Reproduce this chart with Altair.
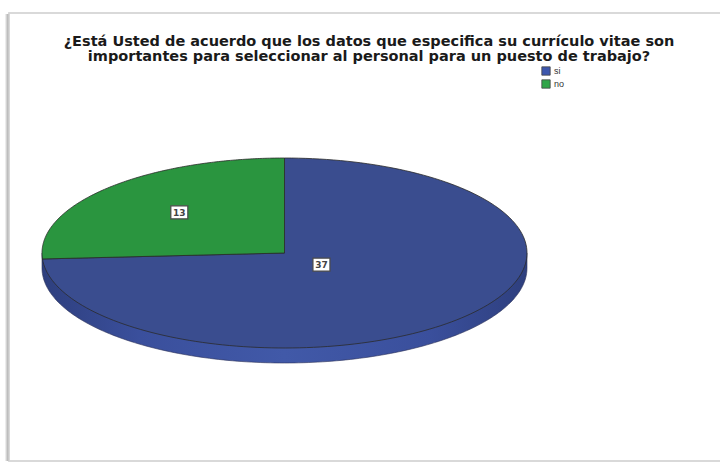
import altair as alt
import pandas as pd

# Responses to the survey question
categorias = ["si", "no"]
valores = [37, 13]
colores = ["#3a4d8f", "#2a953f"]
colores_leyenda = ["#3d57ad", "#2fa548"]
titulo = [
    "¿Está Usted de acuerdo que los datos que especifica su currículo vitae son",
    "importantes para seleccionar al personal para un puesto de trabajo?",
]

# Geometry of the tilted pie (pixel units of the canvas)
W, H = 720, 466
CX, CY, RX, RY, DEPTH = 284.5, 253, 242.5, 95, 15
N = 160

df = pd.DataFrame({"categoria": categorias, "valor": valores, "orden": range(len(categorias))})

xs = alt.Scale(domain=[0, W], range=[0, W], nice=False, zero=False)
ys = alt.Scale(domain=[0, H], range=[0, H], nice=False, zero=False)
X = lambda f: alt.X(f, type="quantitative", scale=xs, axis=None)
Y = lambda f: alt.Y(f, type="quantitative", scale=ys, axis=None)

# Start / end angles of each sector, clockwise from 12 o'clock
sectores = (
    alt.Chart(df)
    .transform_joinaggregate(total="sum(valor)")
    .transform_window(fin="sum(valor)", sort=[alt.SortField("orden")], frame=[None, 0])
    .transform_calculate(
        inicio="datum.fin - datum.valor",
        a0="2*PI*datum.inicio/datum.total",
        a1="2*PI*datum.fin/datum.total",
    )
)

# Visible rim of the disc (front half, shifted down by the depth)
borde = (
    alt.Chart(alt.sequence(0, N + 3, as_="k"))
    .transform_calculate(
        t=f"PI/2 + PI*datum.k/{N}",
        px=f"datum.k <= {N} ? {CX} + {RX}*sin(datum.t) : (datum.k == {N + 1} ? {CX - RX} : {CX + RX})",
        py=f"datum.k <= {N} ? {CY + DEPTH} - {RY}*cos(datum.t) : {CY}",
    )
    .mark_line(
        interpolate="linear-closed",
        stroke="#2a2f55",
        strokeWidth=0.6,
        fill=alt.Gradient(
            gradient="linear",
            x1=0, x2=1, y1=0, y2=0,
            stops=[
                alt.GradientStop(offset=0, color="#2e3f7e"),
                alt.GradientStop(offset=0.2, color="#3a4f9c"),
                alt.GradientStop(offset=0.5, color="#4159a8"),
                alt.GradientStop(offset=0.8, color="#3a4f9c"),
                alt.GradientStop(offset=1, color="#2e3f7e"),
            ],
        ),
    )
    .encode(x=X("px"), y=Y("py"), order="k:Q")
)

# Top face: one closed wedge per category
caras = (
    sectores.transform_calculate(k=f"sequence(-1, {N + 1})")
    .transform_flatten(["k"])
    .transform_calculate(
        t=f"datum.a0 + (datum.a1 - datum.a0)*datum.k/{N}",
        px=f"datum.k < 0 ? {CX} : {CX} + {RX}*sin(datum.t)",
        py=f"datum.k < 0 ? {CY} : {CY} - {RY}*cos(datum.t)",
    )
    .mark_line(interpolate="linear-closed", stroke="#2b2b2b", strokeWidth=0.8, strokeJoin="round")
    .encode(
        x=X("px"),
        y=Y("py"),
        order="k:Q",
        detail="categoria:N",
        fill=alt.Fill(
            "categoria:N",
            scale=alt.Scale(domain=categorias, range=colores),
            legend=None,
        ),
    )
)

# Value labels at each wedge's centroid
etiquetas = sectores.transform_calculate(
    h="(datum.a1 - datum.a0)/2",
    m="(datum.a1 + datum.a0)/2",
    d="2/3*sin(datum.h)/datum.h",
    lx=f"{CX} + {RX}*datum.d*sin(datum.m)",
    ly=f"{CY} - {RY}*datum.d*cos(datum.m) - 2",
    x0="datum.lx - 8.5",
    x1="datum.lx + 8.5",
    y0="datum.ly - 6.5",
    y1="datum.ly + 6.5",
)
cajas = etiquetas.mark_rect(fill="white", stroke="#4a4a4a", strokeWidth=1.2).encode(
    x=X("x0"), x2="x1:Q", y=Y("y0"), y2="y1:Q"
)
textos = etiquetas.mark_text(
    font="DejaVu Sans", fontSize=9, fontWeight="bold", color="#444444", dy=0.5
).encode(x=X("lx"), y=Y("ly"), text="valor:Q")

# Legend built from a fill scale on invisible points
leyenda = (
    alt.Chart(df)
    .mark_point(opacity=0)
    .encode(
        x=alt.value(0),
        y=alt.value(0),
        fill=alt.Fill(
            "categoria:N",
            scale=alt.Scale(domain=categorias, range=colores_leyenda),
            legend=alt.Legend(
                title=None,
                orient="none",
                legendX=541,
                legendY=66,
                symbolType="square",
                symbolSize=70,
                symbolOpacity=1,
                symbolStrokeColor="#444444",
                symbolStrokeWidth=0.8,
                labelFont="Liberation Sans",
                labelFontSize=9,
                labelColor="#333333",
                labelOffset=3,
                rowPadding=1,
            ),
        ),
    )
)

# Title lines
tit_df = pd.DataFrame({"linea": titulo, "n": range(len(titulo))})
tit = (
    alt.Chart(tit_df)
    .transform_calculate(ty="41.5 + 15.5*datum.n")
    .mark_text(font="DejaVu Sans", fontSize=14.5, fontWeight="bold", color="#1a1a1a", align="center", baseline="middle")
    .encode(x=alt.value(369), y=Y("ty"), text="linea:N")
)

# Picture frame with a soft left shadow
marco = alt.Chart(df).mark_rect(fill=None, stroke="#d6d6d6", strokeWidth=1.5).encode(
    x=alt.value(9), x2=alt.value(740), y=alt.value(13), y2=alt.value(461)
)
sombras = [
    alt.Chart(df).mark_rule(color=c, strokeWidth=1).encode(
        x=alt.value(xv), y=alt.value(14), y2=alt.value(461)
    )
    for xv, c in [(5.5, "#ececec"), (6.5, "#d4d4d4"), (7.5, "#bdbdbd"), (8.5, "#c9c9c9")]
]

chart = (
    alt.layer(borde, caras, cajas, textos, leyenda, tit, marco, *sombras)
    .resolve_scale(fill="independent")
    .properties(width=W, height=H, padding=0, autosize="none", background="white")
    .configure_view(stroke=None)
)

chart.save("out.html", embed_options={"renderer": "svg", "actions": False})
